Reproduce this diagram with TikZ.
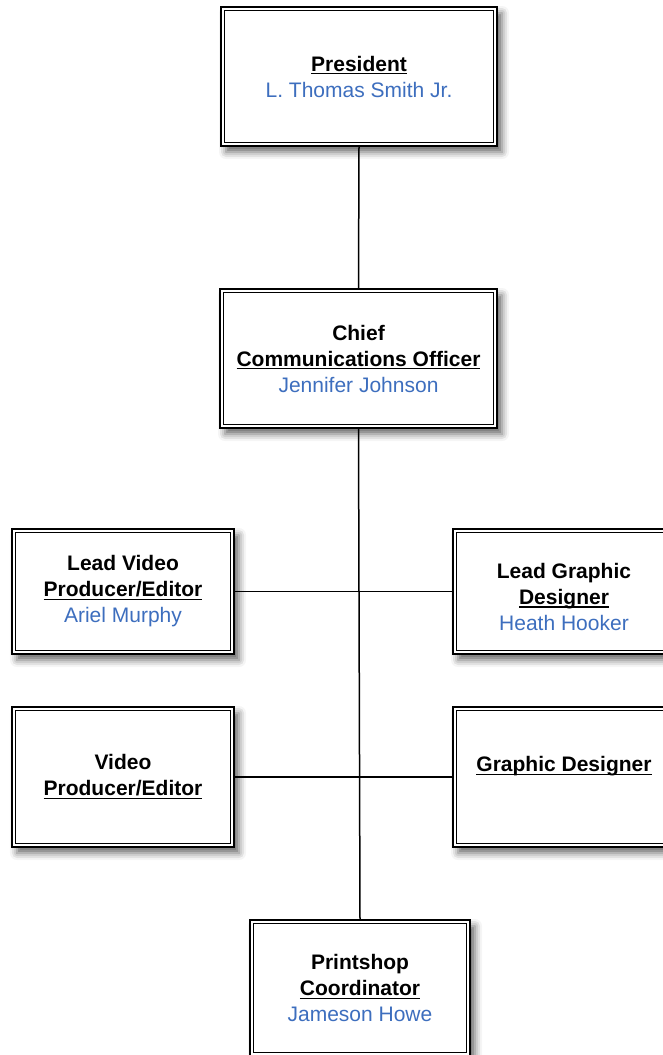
\documentclass[tikz,border=0pt]{standalone}
\usepackage{fontspec}
\setmainfont{Liberation Sans}
\usetikzlibrary{shadows.blur}
\definecolor{nameblue}{RGB}{61,110,190}
\newcommand{\ulbold}[1]{{\setbox0\hbox{\bfseries #1}\rlap{\rule[-1.7pt]{\wd0}{0.7pt}}\box0}}
\newcommand{\nm}[1]{\textcolor{nameblue}{#1}}
\begin{document}
\begin{tikzpicture}[x=0.5pt,y=-0.5pt,
  box/.style={draw, line width=1.15pt, fill=white, rectangle, inner sep=0pt, align=center,
    font=\fontsize{10.5}{13}\selectfont,
    blur shadow={shadow xshift=2.5pt, shadow yshift=-3pt, shadow blur radius=3.5pt, shadow opacity=60}},
  innerline/.style={line width=0.65pt},
  conn/.style={line width=0.75pt}]
\useasboundingbox (0,0) rectangle (663,1055);
\node[box, minimum width=138pt, minimum height=69.5pt] (pres) at (359,76.5)
  {\ulbold{President}\\\nm{L. Thomas Smith Jr.}};
\node[box, minimum width=138.5pt, minimum height=69.5pt] (cco) at (358.5,358.5)
  {{\bfseries Chief}\\\ulbold{Communications Officer}\\\nm{Jennifer Johnson}};
\node[box, minimum width=111pt, minimum height=62.5pt] (lvid) at (123,591.5)
  {{\bfseries Lead Video}\\\ulbold{Producer/Editor}\\\nm{Ariel Murphy}};
\node[box, minimum width=111pt, minimum height=62.5pt] (lgra) at (564,591.5)
  {\mbox{}\\{\bfseries Lead Graphic}\\\ulbold{Designer}\\\nm{Heath Hooker}};
\node[box, minimum width=111pt, minimum height=70pt] (vid) at (123,777)
  {{\bfseries Video}\\\ulbold{Producer/Editor}};
\node[box, minimum width=111pt, minimum height=70pt] (gra) at (564,777)
  {\ulbold{Graphic Designer}\\\mbox{}};
\node[box, minimum width=110pt, minimum height=68pt] (print) at (360,988)
  {{\bfseries Printshop}\\\ulbold{Coordinator}\\\nm{Jameson Howe}};
\foreach \n in {pres,cco,lvid,lgra,vid,gra,print}
  \draw[innerline] ([shift={(2.4pt,2.4pt)}]\n.south west) rectangle ([shift={(-2.4pt,-2.4pt)}]\n.north east);
\draw[conn] (pres.south) -- (cco.north);
\draw[conn] (cco.south) -- (print.north);
\draw[conn] (lvid.east) -- (lgra.west);
\draw[conn] (vid.east) -- (gra.west);
\end{tikzpicture}
\end{document}
